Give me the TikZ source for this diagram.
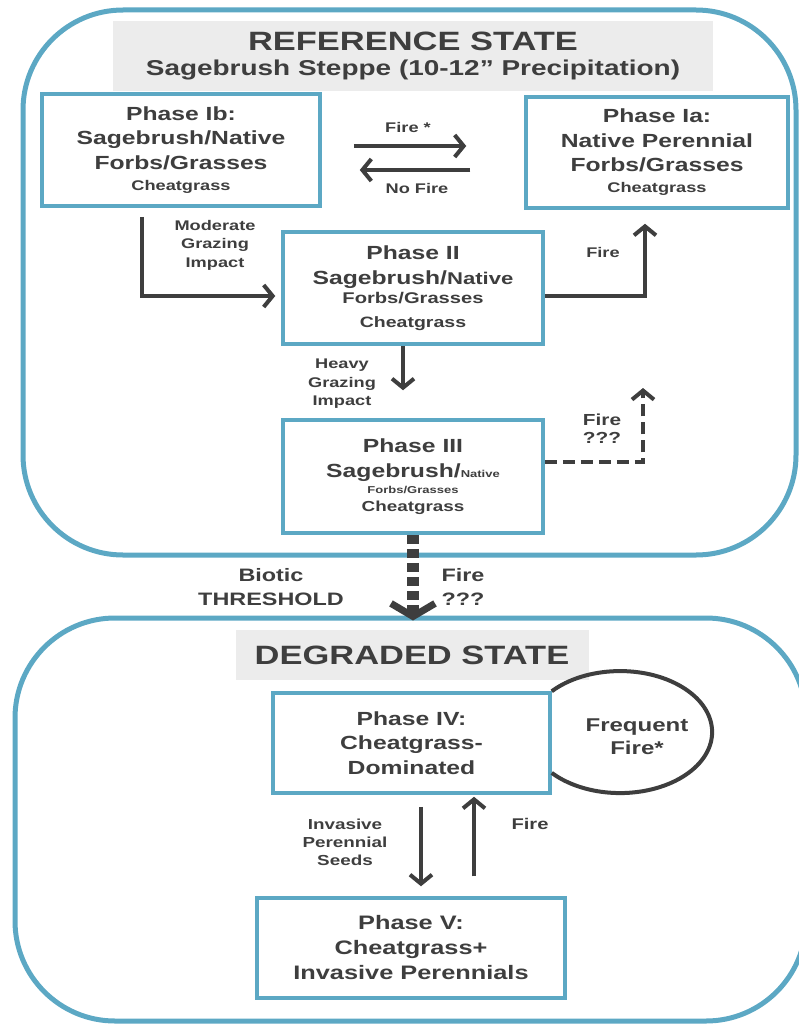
\documentclass[tikz,border=0pt]{standalone}
\usepackage{fontspec}
\setmainfont{Liberation Sans}[FakeStretch=1.3]
\usetikzlibrary{arrows.meta}
\definecolor{boxblue}{RGB}{92,168,196}
\definecolor{inkgray}{RGB}{62,62,62}
\definecolor{bandgray}{RGB}{236,236,236}
\newcommand{\fsz}[2]{\fontsize{#1}{#2}\selectfont}

\begin{document}
\begin{tikzpicture}[x=1pt, y=-1pt,
    state node/.style={draw=boxblue, line width=5pt, rounded corners=100pt},
    band node/.style={fill=bandgray, inner sep=0pt, align=center, text=inkgray},
    phase node/.style={draw=boxblue, line width=3.5pt, fill=white, inner sep=0pt, align=center, text=inkgray},
    label node/.style={align=center, text=inkgray, inner sep=0pt},
    flow/.style={draw=inkgray, line width=4pt, -{Straight Barb[length=9pt, width=22pt]}},
    threshold/.style={draw=inkgray, line width=12pt, dash pattern=on 9pt off 5pt,
                      -{Straight Barb[length=13pt, width=44pt, line width=7pt]}},
    cycle line/.style={draw=inkgray, line width=4pt}]

  \useasboundingbox (0,0) rectangle (798,1025);

  \node[state node, minimum width=773pt, minimum height=545pt] (ref) at (409.5,282.5) {};
  \node[state node, minimum width=791pt, minimum height=403pt] (deg) at (410.5,819.5) {};

  \node[band node, minimum width=600pt, minimum height=70pt, font=\bfseries\fsz{26.5}{25}] (reftitle) at (413,56)
    {REFERENCE STATE\\{\fsz{21.5}{25}Sagebrush Steppe (10-12” Precipitation)}};
  \node[band node, minimum width=353pt, minimum height=50pt, font=\bfseries\fsz{26.5}{30}] (degtitle) at (412,655)
    {DEGRADED STATE};

  \node[phase node, minimum width=278pt, minimum height=112pt, font=\bfseries\fsz{19}{24.5}] (p1b) at (181,150)
    {Phase Ib:\\Sagebrush/Native\\Forbs/Grasses\\[-3.5pt]{\fsz{14}{17}Cheatgrass}};
  \node[phase node, minimum width=262pt, minimum height=111pt, font=\bfseries\fsz{19}{24.5}] (p1a) at (657,152.5)
    {Phase Ia:\\Native Perennial\\Forbs/Grasses\\[-3.5pt]{\fsz{14}{17}Cheatgrass}};
  \node[phase node, minimum width=260pt, minimum height=112pt, font=\bfseries\fsz{19}{25}] (p2) at (413,288)
    {Phase II\\Sagebrush/{\fsz{17}{20}Native}\\[-5.5pt]{\fsz{15.5}{19}Forbs/Grasses}\\[-1pt]{\fsz{15}{18}Cheatgrass}};
  \node[phase node, minimum width=260pt, minimum height=113pt, font=\bfseries\fsz{19}{25}] (p3) at (413,476.5)
    {Phase III\\Sagebrush/{\fsz{10}{12}Native}\\[-8.5pt]{\fsz{10}{12}Forbs/Grasses}\\[-7.5pt]{\fsz{14.5}{17}Cheatgrass}};
  \node[phase node, minimum width=277pt, minimum height=100pt, font=\bfseries\fsz{19}{24.5}] (p4) at (411.5,743)
    {Phase IV:\\Cheatgrass-\\Dominated};
  \node[phase node, minimum width=308pt, minimum height=100pt, font=\bfseries\fsz{19.5}{25}] (p5) at (411,948)
    {Phase V:\\Cheatgrass+\\Invasive Perennials};

  \coordinate (fireup) at (643,388);

  \draw[flow, shorten <=32pt, shorten >=58pt] ([yshift=4pt]p1b.east) -- ([yshift=4pt]p1b.east -| p1a.west);
  \draw[flow, shorten <=54pt, shorten >=38pt] ([yshift=-20pt]p1b.east -| p1a.west) -- ([yshift=-20pt]p1b.east);
  \draw[flow, shorten <=9pt, shorten >=6pt] ([xshift=-39pt]p1b.south) |- ([yshift=-8pt]p2.west);
  \draw[flow, shorten >=14pt] ([yshift=-8pt]p2.east) -| ([xshift=-12pt]p1a.south);
  \draw[flow, shorten >=28pt] ([xshift=-10pt]p2.south) -- ([xshift=-10pt]p3.north);
  \draw[flow, dash pattern=on 12pt off 6pt] ([yshift=14.5pt]p3.east) -| (fireup);
  \draw[threshold] (p3.south) -- ([yshift=-5pt]p3.south |- deg.north);
  \draw[flow, shorten <=12pt, shorten >=10pt] ([xshift=9.5pt]p4.south) -- ([xshift=9.5pt]p4.south |- p5.north);
  \draw[flow, shorten <=20pt, shorten >=2pt] ([xshift=62.5pt]p4.south |- p5.north) -- ([xshift=62.5pt]p4.south);
  \draw[cycle line] (p4.north east) arc[start angle=-138, end angle=138, x radius=92, y radius=61];

  \node[label node, font=\bfseries\fsz{14}{17}] (lfire1) at (408,127) {Fire *};
  \node[label node, font=\bfseries\fsz{14}{17}] (lnofire) at (417,188) {No Fire};
  \node[label node, font=\bfseries\fsz{14}{18.5}] (lmod) at (215,245) {Moderate\\Grazing\\Impact};
  \node[label node, font=\bfseries\fsz{14}{17}] (lfire2) at (603,252) {Fire};
  \node[label node, font=\bfseries\fsz{14}{18.5}] (lheavy) at (342,384) {Heavy\\Grazing\\Impact};
  \node[label node, font=\bfseries\fsz{16}{18}] (lfire3) at (602,429) {Fire\\???};
  \node[label node, font=\bfseries\fsz{18}{24}] (lbiotic) at (271,587) {Biotic\\THRESHOLD};
  \node[label node, font=\bfseries\fsz{18}{24}] (lfire4) at (463,587) {Fire\\???};
  \node[label node, font=\bfseries\fsz{14.5}{18}] (lseeds) at (345,842) {Invasive\\Perennial\\Seeds};
  \node[label node, font=\bfseries\fsz{15.5}{18}] (lfire5) at (530,824) {Fire};
  \node[label node, font=\bfseries\fsz{18.5}{23}] (lfreq) at (637,737) {Frequent\\Fire*};

\end{tikzpicture}
\end{document}
